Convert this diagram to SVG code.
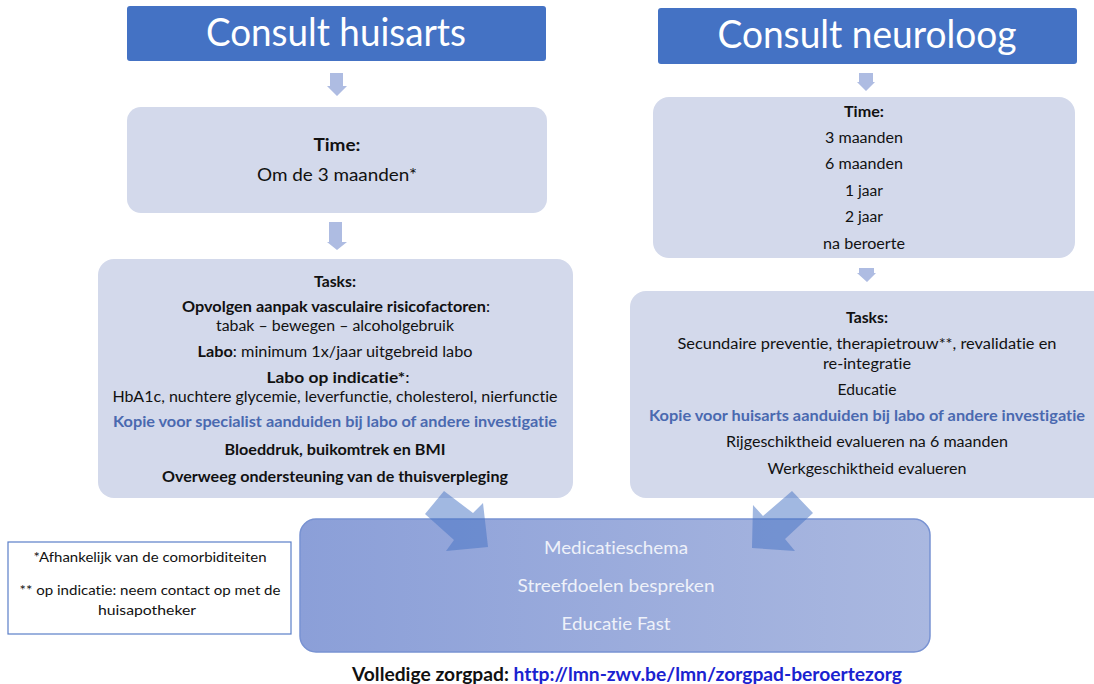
<svg xmlns="http://www.w3.org/2000/svg" width="1094" height="684" viewBox="0 0 1094 684">
<style>
text{font-family:Lato,"Open Sans","Liberation Sans",sans-serif;text-anchor:middle;fill:#111;font-variant-ligatures:none;font-feature-settings:"liga" 0,"clig" 0}
.hd{fill:#4472C4}
.hdt{fill:#fff;font-size:39px}
.bx{fill:#D3D9EB}
.b{font-weight:bold}
.s{font-size:14.6px}
.k{fill:#4A69B0;font-weight:bold}
.sm{fill:#AEBCE2}
.diag{fill:#4472C4;opacity:0.5}
.bt{fill:#EEF1F9;font-size:17.5px}
.fn{font-size:13.5px}
</style>
<defs>
<linearGradient id="gb" x1="0" y1="0" x2="1" y2="0">
<stop offset="0" stop-color="#8B9FD8"/>
<stop offset="1" stop-color="#AAB8E0"/>
</linearGradient>
</defs>

<g id="header-huisarts">
<rect class="hd" x="127" y="6" width="419" height="55" rx="3"/>
<text class="hdt" x="336" y="46" textLength="260" lengthAdjust="spacingAndGlyphs">Consult huisarts</text>
</g>
<g id="header-neuroloog">
<rect class="hd" x="658" y="8" width="419" height="56" rx="3"/>
<text class="hdt" x="867" y="48" textLength="299" lengthAdjust="spacingAndGlyphs">Consult neuroloog</text>
</g>

<g id="time-huisarts">
<rect class="bx" x="127" y="107" width="420" height="106" rx="14"/>
<text class="b" x="337" y="151" font-size="16.5px" textLength="47" lengthAdjust="spacingAndGlyphs">Time:</text>
<text x="337" y="181" font-size="16.5px" textLength="160" lengthAdjust="spacingAndGlyphs">Om de 3 maanden*</text>
</g>

<g id="time-neuroloog">
<rect class="bx" x="653" y="97" width="422" height="161" rx="16"/>
<text class="b s" x="864" y="117" textLength="40" lengthAdjust="spacingAndGlyphs">Time:</text>
<text class="s" x="864" y="143" textLength="78" lengthAdjust="spacingAndGlyphs">3 maanden</text>
<text class="s" x="864" y="169" textLength="78" lengthAdjust="spacingAndGlyphs">6 maanden</text>
<text class="s" x="864" y="196" textLength="38" lengthAdjust="spacingAndGlyphs">1 jaar</text>
<text class="s" x="864" y="222" textLength="38" lengthAdjust="spacingAndGlyphs">2 jaar</text>
<text class="s" x="864" y="249" textLength="82" lengthAdjust="spacingAndGlyphs">na beroerte</text>
</g>

<g id="tasks-huisarts">
<rect class="bx" x="98" y="259" width="475" height="239" rx="16"/>
<text class="b s" x="335" y="287" textLength="42" lengthAdjust="spacingAndGlyphs">Tasks:</text>
<text class="s" x="336" y="312" textLength="308" lengthAdjust="spacingAndGlyphs"><tspan class="b">Opvolgen aanpak vasculaire risicofactoren</tspan>:</text>
<text class="s" x="335" y="331" textLength="238" lengthAdjust="spacingAndGlyphs">tabak – bewegen – alcoholgebruik</text>
<text class="s" x="335" y="357" textLength="275" lengthAdjust="spacingAndGlyphs"><tspan class="b">Labo</tspan>: minimum 1x/jaar uitgebreid labo</text>
<text class="s" x="338" y="383" textLength="143" lengthAdjust="spacingAndGlyphs"><tspan class="b">Labo op indicatie*</tspan>:</text>
<text class="s" x="335" y="402" textLength="445" lengthAdjust="spacingAndGlyphs">HbA1c, nuchtere glycemie, leverfunctie, cholesterol, nierfunctie</text>
<text class="s k" x="335" y="427" textLength="444" lengthAdjust="spacingAndGlyphs">Kopie voor specialist aanduiden bij labo of andere investigatie</text>
<text class="s b" x="335" y="455" textLength="221" lengthAdjust="spacingAndGlyphs">Bloeddruk, buikomtrek en BMI</text>
<text class="s b" x="335" y="482" textLength="346" lengthAdjust="spacingAndGlyphs">Overweeg ondersteuning van de thuisverpleging</text>
</g>

<g id="tasks-neuroloog">
<rect class="bx" x="630" y="291" width="480" height="207" rx="16"/>
<text class="b s" x="867" y="323" textLength="42" lengthAdjust="spacingAndGlyphs">Tasks:</text>
<text class="s" x="867" y="349" textLength="379" lengthAdjust="spacingAndGlyphs">Secundaire preventie, therapietrouw**, revalidatie en</text>
<text class="s" x="867" y="369" textLength="88" lengthAdjust="spacingAndGlyphs">re-integratie</text>
<text class="s" x="867" y="395" textLength="59" lengthAdjust="spacingAndGlyphs">Educatie</text>
<text class="s k" x="867" y="421" textLength="436" lengthAdjust="spacingAndGlyphs">Kopie voor huisarts aanduiden bij labo of andere investigatie</text>
<text class="s" x="867" y="447" textLength="282" lengthAdjust="spacingAndGlyphs">Rijgeschiktheid evalueren na 6 maanden</text>
<text class="s" x="867" y="474" textLength="199" lengthAdjust="spacingAndGlyphs">Werkgeschiktheid evalueren</text>
</g>

<g id="samen">
<rect x="300" y="519" width="630" height="133" rx="16" fill="url(#gb)" stroke="#7892D2" stroke-width="1.5"/>
<text class="bt" x="616" y="554" textLength="144" lengthAdjust="spacingAndGlyphs">Medicatieschema</text>
<text class="bt" x="616" y="592" textLength="197" lengthAdjust="spacingAndGlyphs">Streefdoelen bespreken</text>
<text class="bt" x="616" y="630" textLength="109" lengthAdjust="spacingAndGlyphs">Educatie Fast</text>
</g>

<g id="voetnoot">
<rect x="8" y="542" width="283" height="92" fill="#fff" stroke="#5B7FC8" stroke-width="1.2"/>
<text class="fn" x="150" y="562" textLength="233" lengthAdjust="spacingAndGlyphs">*Afhankelijk van de comorbiditeiten</text>
<text class="fn" x="150" y="595" textLength="261" lengthAdjust="spacingAndGlyphs">** op indicatie: neem contact op met de</text>
<text class="fn" x="147" y="615" textLength="98" lengthAdjust="spacingAndGlyphs">huisapotheker</text>
</g>

<g id="connectors">
<polygon class="sm" points="330,73 343,73 343,86 347,86 337,96 327,86 330,86"/>
<polygon class="sm" points="329,222 342,222 342,242 347,242 337,250 327,242 329,242"/>
<polygon class="sm" points="859,73 873,73 873,82 875,82 866,91 857,82 859,82"/>
<polygon class="sm" points="859,268 874,268 874,273 876,273 867,282 857,273 859,273"/>
<polygon class="diag" points="444,491 473,513 483,503 488,547 446,551 454,540 425,514"/>
<polygon class="diag" points="792,491 813,513 785,539 795,551 752,548 753,505 763,516"/>
</g>

<g id="link">
<text x="352" y="681" font-size="18px" font-weight="bold" style="text-anchor:start" textLength="550" lengthAdjust="spacingAndGlyphs">Volledige zorgpad: <tspan fill="#1A22D0">http://lmn-zwv.be/lmn/zorgpad-beroertezorg</tspan></text>
</g>
</svg>
